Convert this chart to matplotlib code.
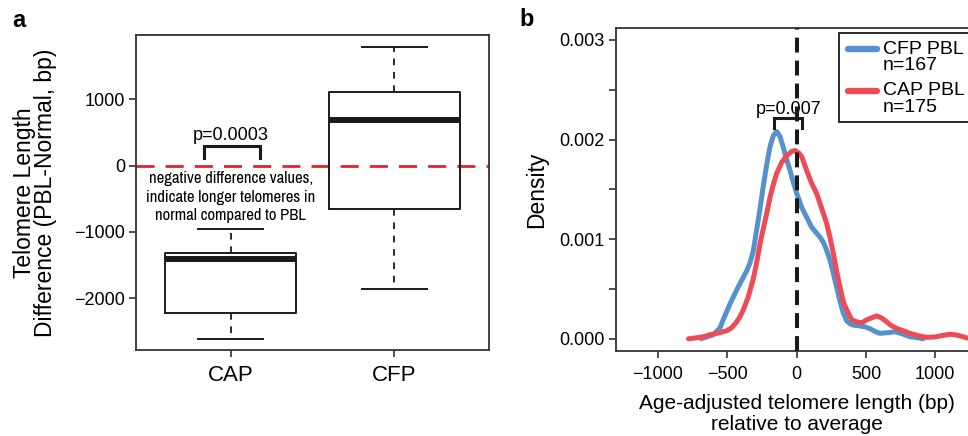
import matplotlib
matplotlib.use("Agg")
import matplotlib.pyplot as plt
from matplotlib.patches import Rectangle
from matplotlib.lines import Line2D
from matplotlib import font_manager
import numpy as np

plt.rcParams['font.family'] = ['Liberation Sans', 'DejaVu Sans']

# ---------------- data: panel a (box plot) ----------------
groups = ['CAP', 'CFP']
whisker_low = [-2613, -1863]
q1 = [-2225, -650]
median = [-1405, 695]
q3 = [-1324, 1113]
whisker_high = [-952, 1798]
p_a = 'p=0.0003'
note_a = 'negative difference values,\nindicate longer telomeres in\nnormal compared to PBL'

# ---------------- data: panel b (density curves) ----------------
cfp_x = [-690, -600, -553, -530, -481, -433, -361, -337, -313, -289, -265, -241, -216,
         -192, -168, -144, -120, -96, -72, -48, -24, 0, 36, 72, 108, 144, 168, 192, 216,
         240, 264, 288, 312, 336, 361, 385, 409, 450, 493, 530, 570, 601, 650, 709, 760,
         817, 870, 913]
cfp_y = [0.0, 0.00004, 0.00011, 0.00019, 0.00035, 0.00049, 0.00068, 0.00076, 0.00088,
         0.00109, 0.00130, 0.00153, 0.00175, 0.00193, 0.00204, 0.00208, 0.00203, 0.00192,
         0.00180, 0.00169, 0.00157, 0.00146, 0.00132, 0.00122, 0.00112, 0.00106, 0.00102,
         0.00097, 0.00089, 0.00079, 0.00066, 0.00052, 0.00038, 0.00026, 0.00018, 0.00015,
         0.000137, 0.00013, 0.00012, 0.00010, 0.00007, 0.000054, 0.00006, 0.00007, 0.00005,
         0.00002, 0.00001, 0.0]
cap_x = [-780, -720, -673, -626, -560, -505, -469, -433, -409, -385, -349, -313, -289,
         -265, -240, -216, -192, -168, -144, -108, -72, -36, -12, 12, 36, 72, 108, 144,
         168, 192, 216, 240, 264, 288, 312, 337, 361, 397, 433, 470, 505, 540, 577, 610,
         649, 685, 721, 770, 817, 880, 938, 1000, 1058, 1110, 1154, 1200, 1240, 1300]
cap_y = [0.0, 0.00001, 0.00002, 0.00004, 0.00006, 0.00008, 0.00011, 0.00017, 0.00022,
         0.00029, 0.00042, 0.00060, 0.00076, 0.00095, 0.00111, 0.00126, 0.00142, 0.00155,
         0.00166, 0.00177, 0.00184, 0.00188, 0.00189, 0.00187, 0.00183, 0.00169, 0.00156,
         0.00146, 0.00136, 0.00126, 0.00116, 0.00102, 0.00086, 0.00068, 0.00052, 0.00037,
         0.00029, 0.00019, 0.00017, 0.00016, 0.00019, 0.00021, 0.00023, 0.00021, 0.00017,
         0.00013, 0.000104, 0.00008, 0.000054, 0.00003, 0.000014, 0.000018, 0.000035,
         0.000045, 0.000037, 0.00002, 0.000004, 0.0]
legend_labels = ['CFP PBL', 'n=167', 'CAP PBL', 'n=175']
p_b = 'p=0.007'
bracket_b = [-164, 36]

# pick a condensed font for the note if one is installed
narrow_family = None
for f in font_manager.fontManager.ttflist:
    n = f.name
    if ('Narrow' in n or 'Condensed' in n) and 'Mono' not in n and 'Serif' not in n:
        narrow_family = n
        break
if narrow_family is None:
    for f in font_manager.fontManager.ttflist:
        if f.stretch in ('condensed', 'semi-condensed', 'extra-condensed') and 'Mono' not in f.name:
            narrow_family = f.name
            break

W, H = 968, 436
fig = plt.figure(figsize=(W / 100, H / 100), dpi=100)

def fx(px):
    return px / W

def fy(py):
    return 1 - py / H

BLUE = '#5592CD'
RED = '#EE4B56'
BLACK = '#1a1a1a'

# ---------------- panel a ----------------
axa = fig.add_axes([fx(136), fy(350), fx(489) - fx(136), fy(35) - fy(350)])
stats = []
for i, g in enumerate(groups):
    stats.append(dict(label=g, whislo=whisker_low[i], q1=q1[i], med=median[i],
                      q3=q3[i], whishi=whisker_high[i], fliers=[]))
axa.bxp(stats, positions=[1, 2], widths=0.8, capwidths=0.4, showfliers=False,
        boxprops=dict(color=BLACK, linewidth=1.4),
        medianprops=dict(color=BLACK, linewidth=4.3, solid_capstyle='butt'),
        whiskerprops=dict(color=BLACK, linewidth=1.3, linestyle=(0, (3.7, 3.7))),
        capprops=dict(color=BLACK, linewidth=1.4))
axa.set_xlim(0.42, 2.58)
axa.set_ylim(-2784, 1974)
axa.axhline(0, color='#E8202A', linewidth=2.0, linestyle=(0, (6.5, 4)), zorder=1)
axa.set_yticks([-2000, -1000, 0, 1000])
axa.set_xticks([1, 2])
axa.set_xticklabels(groups, fontsize=16)
axa.tick_params(axis='y', labelsize=13, length=5, width=1.2, pad=3, color='#333333')
axa.tick_params(axis='x', length=5, width=1.2, pad=6, color='#333333')
for s in axa.spines.values():
    s.set_linewidth(1.3)
    s.set_color('#333333')
axa.set_ylabel('Telomere Length\nDifference (PBL-Normal, bp)', fontsize=16.5,
               linespacing=0.92, labelpad=12)
# bracket
bx0, bx1 = 0.836, 1.177
axa.plot([bx0, bx0, bx1, bx1], [116, 298, 298, 116], color=BLACK, linewidth=2.2,
         solid_joinstyle='miter')
axa.text(1.0, 388, p_a, ha='center', va='baseline', fontsize=13)
if narrow_family:
    axa.text(1.0, -473, note_a, ha='center', va='center', fontsize=12, linespacing=1.28,
             family=[narrow_family, 'Liberation Sans'])
else:
    axa.text(1.0, -473, note_a, ha='center', va='center', fontsize=9.9, linespacing=1.45)
fig.text(fx(12), fy(27), 'a', fontsize=17, fontweight='bold', ha='left', va='baseline')

# ---------------- panel b ----------------
axb = fig.add_axes([fx(616.3), fy(350.7), fx(978) - fx(616.3), fy(28) - fy(350.7)])
axb.plot(cfp_x, cfp_y, color=BLUE, linewidth=3.6, solid_capstyle='round',
         solid_joinstyle='round', zorder=3)
axb.plot(cap_x, cap_y, color=RED, linewidth=3.6, solid_capstyle='round',
         solid_joinstyle='round', zorder=4)
axb.axvline(0, color=BLACK, linewidth=2.9, linestyle=(0, (3.7, 2)), zorder=5)
axb.set_xlim(-1301, 1308)
axb.set_ylim(-0.00012, 0.00312)
axb.set_xticks([-1000, -500, 0, 500, 1000])
axb.set_yticks(np.arange(0, 0.0031, 0.0005))
axb.set_yticklabels(['0.000', '', '0.001', '', '0.002', '', '0.003'])
axb.tick_params(labelsize=13, length=5, width=1.2, color='#333333')
axb.tick_params(axis='x', pad=6)
for s in axb.spines.values():
    s.set_linewidth(1.3)
    s.set_color('#333333')
axb.set_ylabel('Density', fontsize=16.5, labelpad=8)
axb.set_xlabel('Age-adjusted telomere length (bp)\nrelative to average', fontsize=15,
               linespacing=1.12, labelpad=8)
axb.plot([bracket_b[0], bracket_b[0], bracket_b[1], bracket_b[1]],
         [0.002111, 0.002221, 0.002221, 0.002111], color=BLACK, linewidth=2.2,
         solid_joinstyle='miter', zorder=6)
axb.text(-58, 0.00226, p_b, ha='center', va='baseline', fontsize=13)
fig.text(fx(519), fy(26), 'b', fontsize=17, fontweight='bold', ha='left', va='baseline')

# legend (manual, clipped by figure edge like the reference)
fig.add_artist(Rectangle((fx(838.7), fy(122.3)), fx(1000) - fx(838.7), fy(33.3) - fy(122.3),
                         transform=fig.transFigure, facecolor='white', edgecolor=BLACK,
                         linewidth=1.3, zorder=10))
for yy, col in [(49, BLUE), (90.7, RED)]:
    fig.add_artist(Line2D([fx(848), fx(877)], [fy(yy), fy(yy)], transform=fig.transFigure,
                          color=col, linewidth=4.6, solid_capstyle='round', zorder=11))
for yy, lab in zip([49, 65.5, 90.7, 107.5], legend_labels):
    fig.text(fx(883), fy(yy), lab, fontsize=14, ha='left', va='center', zorder=12)

fig.savefig('out.png', dpi=100)
